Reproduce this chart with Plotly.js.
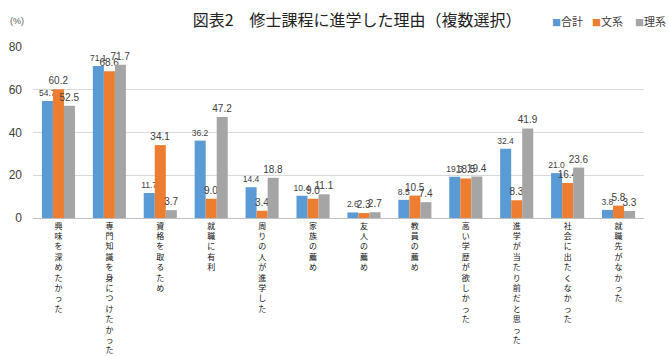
<!DOCTYPE html>
<html><head><meta charset="utf-8">
<script src="https://cdn.plot.ly/plotly-3.0.1.min.js"></script>
<style>html,body{margin:0;padding:0;background:#fff}#c{width:670px;height:356px}</style>
</head><body><div id="c"></div>
<script>
const categories = ["興味を深めたかった","専門知識を身につけたかった","資格を取るため","就職に有利","周りの人が進学した","家族の薦め","友人の薦め","教員の薦め","高い学歴が欲しかった","進学が当たり前だと思った","社会に出たくなかった","就職先がなかった"];
const totalVals = [54.7,71.1,11.7,36.2,14.4,10.4,2.6,8.5,19.3,32.4,21.0,3.8];
const bunkeiVals = [60.2,68.6,34.1,9.0,3.4,9.0,2.3,10.5,18.5,8.3,16.4,5.8];
const rikeiVals = [52.5,71.7,3.7,47.2,18.8,11.1,2.7,7.4,19.4,41.9,23.6,3.3];
const seriesNames = ["合計","文系","理系"];
const yTicks = [0,20,40,60,80];

const verticalText = s => Array.from(s).join("<br>");
const colors = ["#5B9BD5","#ED7D31","#A5A5A5"];
const vals = [totalVals, bunkeiVals, rikeiVals];
const labelSizes = [8.5, 10, 10];
const JP = "'Noto Sans CJK JP', sans-serif";
const LS = "'Liberation Sans', sans-serif";

const traces = vals.map((v,i)=>({
  type:"bar", name:seriesNames[i], x:categories, y:v,
  marker:{color:colors[i]},
  text:v.map(n=>n.toFixed(1)), textposition:"outside", cliponaxis:false,
  constraintext:"none",
  textfont:{family:LS, size:labelSizes[i], color:"#404040"},
  hoverinfo:"none"
}));

// legend drawn as text entries (top right)
const legendX = [0.846, 0.911, 0.982];
const legendAnn = seriesNames.map((n,i)=>({
  text:'<span style="color:'+colors[i]+';font-size:9px">■</span>'+n,
  xref:"paper", yref:"paper", x:legendX[i], y:1.152, xanchor:"left", yanchor:"middle",
  showarrow:false, font:{family:JP, size:11, color:"#404040"}
}));

const layout = {
  width:670, height:356,
  margin:{l:33, r:26, t:47, b:138},
  paper_bgcolor:"#fff", plot_bgcolor:"#fff",
  barmode:"group", bargap:0.35, bargroupgap:0,
  showlegend:false,
  title:{text:"図表2　修士課程に進学した理由（複数選択）", x:0.533, xanchor:"center", y:0.944, yanchor:"middle",
    font:{family:JP, size:16, color:"#222"}},
  xaxis:{tickmode:"array", tickvals:categories, ticktext:categories.map(verticalText),
    tickangle:0, tickfont:{family:JP, size:8, color:"#111"},
    showline:true, linecolor:"#bfbfbf", ticks:"", showgrid:false, fixedrange:true},
  yaxis:{range:[0,80], tickvals:yTicks, showgrid:true, gridcolor:"#d9d9d9",
    zeroline:false, showline:false, ticks:"", ticklabelstandoff:10,
    tickfont:{family:LS, size:12, color:"#404040"}, fixedrange:true},
  annotations:[{text:"(%)", xref:"paper", yref:"paper", x:-0.026, y:1.152, xanchor:"center", yanchor:"middle",
    showarrow:false, font:{family:LS, size:9, color:"#595959"}}].concat(legendAnn)
};
Plotly.newPlot("c", traces, layout, {staticPlot:true, displayModeBar:false});
</script></body></html>
